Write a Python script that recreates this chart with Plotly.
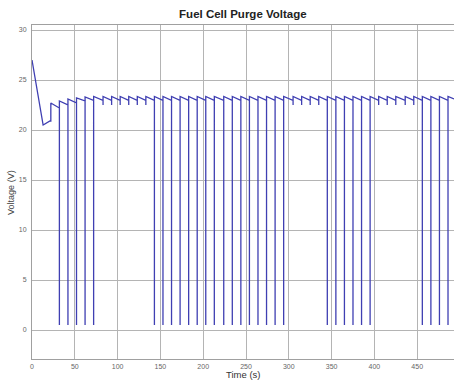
import plotly.graph_objects as go

# Initial transient (time s, voltage V)
init_t = [0, 13, 21]
init_v = [27.0, 20.5, 20.9]

# Purge events: time, voltage just before, minimum during purge, peak after purge
purge_t = [22, 32, 42, 52, 62, 72, 83, 93, 103, 113, 123, 133,
           143, 153, 163, 173, 183, 193, 203, 213, 224, 234, 244, 254, 264, 274, 284, 294,
           305, 315, 325, 335,
           345, 355, 365, 375, 385, 395,
           405, 415, 425, 436, 446,
           456, 466, 476, 486]
pre_v = [20.9, 22.2, 22.5, 22.7, 22.9, 22.95, 22.95, 22.95, 22.95, 22.95, 22.95, 22.95,
         22.95, 22.95, 22.95, 22.95, 22.95, 22.95, 22.95, 22.95, 22.95, 22.95, 22.95, 22.95, 22.95, 22.95, 22.95, 22.95,
         22.95, 22.95, 22.95, 22.95,
         22.95, 22.95, 22.95, 22.95, 22.95, 22.95,
         22.95, 22.95, 22.95, 22.95, 22.95,
         22.95, 22.95, 22.95, 22.95]
min_v = [20.9, 0.5, 0.5, 0.5, 0.5, 0.5, 22.5, 22.5, 22.5, 22.5, 22.5, 22.5,
         0.5, 0.5, 0.5, 0.5, 0.5, 0.5, 0.5, 0.5, 0.5, 0.5, 0.5, 0.5, 0.5, 0.5, 0.5, 0.5,
         22.5, 22.5, 22.5, 22.5,
         0.5, 0.5, 0.5, 0.5, 0.5, 0.5,
         22.5, 22.5, 22.5, 22.5, 22.5,
         0.5, 0.5, 0.5, 0.5]
peak_v = [22.7, 22.9, 23.1, 23.2, 23.3, 23.35, 23.35, 23.35, 23.35, 23.35, 23.35, 23.35,
          23.35, 23.35, 23.35, 23.35, 23.35, 23.35, 23.35, 23.35, 23.35, 23.35, 23.35, 23.35, 23.35, 23.35, 23.35, 23.35,
          23.35, 23.35, 23.35, 23.35,
          23.35, 23.35, 23.35, 23.35, 23.35, 23.35,
          23.35, 23.35, 23.35, 23.35, 23.35,
          23.35, 23.35, 23.35, 23.35]
end_t = [493]
end_v = [23.1]

x_ticks = [0, 50, 100, 150, 200, 250, 300, 350, 400, 450]
y_ticks = [0, 5, 10, 15, 20, 25, 30]

xs = list(init_t)
ys = list(init_v)
for t, a, m, p in zip(purge_t, pre_v, min_v, peak_v):
    xs += [t, t, t]
    ys += [a, m, p]
xs += end_t
ys += end_v

FONT = "Liberation Sans, Arial, sans-serif"

fig = go.Figure()
fig.add_trace(go.Scatter(x=xs, y=ys, mode="lines",
                         line=dict(color="#3f3fb2", width=1.3),
                         showlegend=False, hoverinfo="skip"))

axis_common = dict(showgrid=True, gridcolor="#b4b4b4", gridwidth=1,
                   showline=True, linecolor="#a0a0a0", linewidth=1, mirror=True,
                   zeroline=False, ticks="", automargin=False,
                   tickfont=dict(family=FONT, size=7, color="#666666"))

fig.update_layout(
    width=454, height=380,
    margin=dict(l=32, r=0, t=25, b=21, autoexpand=False),
    paper_bgcolor="white", plot_bgcolor="white",
    title=dict(text="<b>Fuel Cell Purge Voltage</b>", x=0.535, xanchor="center", y=0.962, yanchor="middle",
               font=dict(family=FONT, size=11.5, color="#222222")),
    xaxis=dict(range=[0, 493], tickvals=x_ticks, ticklabelstandoff=1, **axis_common),
    yaxis=dict(range=[-2.9, 30.5], tickvals=y_ticks, ticklabelstandoff=3, **axis_common),
    annotations=[
        dict(text="Time (s)", xref="paper", yref="paper", x=0.5, y=-0.046, xanchor="center", yanchor="middle",
             showarrow=False, font=dict(family=FONT, size=9.5, color="#333333")),
        dict(text="Voltage (V)", xref="paper", yref="paper", x=-0.05, y=0.5, xanchor="center", yanchor="middle",
             textangle=-90, showarrow=False, font=dict(family=FONT, size=9, color="#444444")),
    ],
)

fig.write_html("out.html", config={"displayModeBar": False},
               post_script="document.body.style.margin='0px'; document.body.style.overflow='hidden';")
